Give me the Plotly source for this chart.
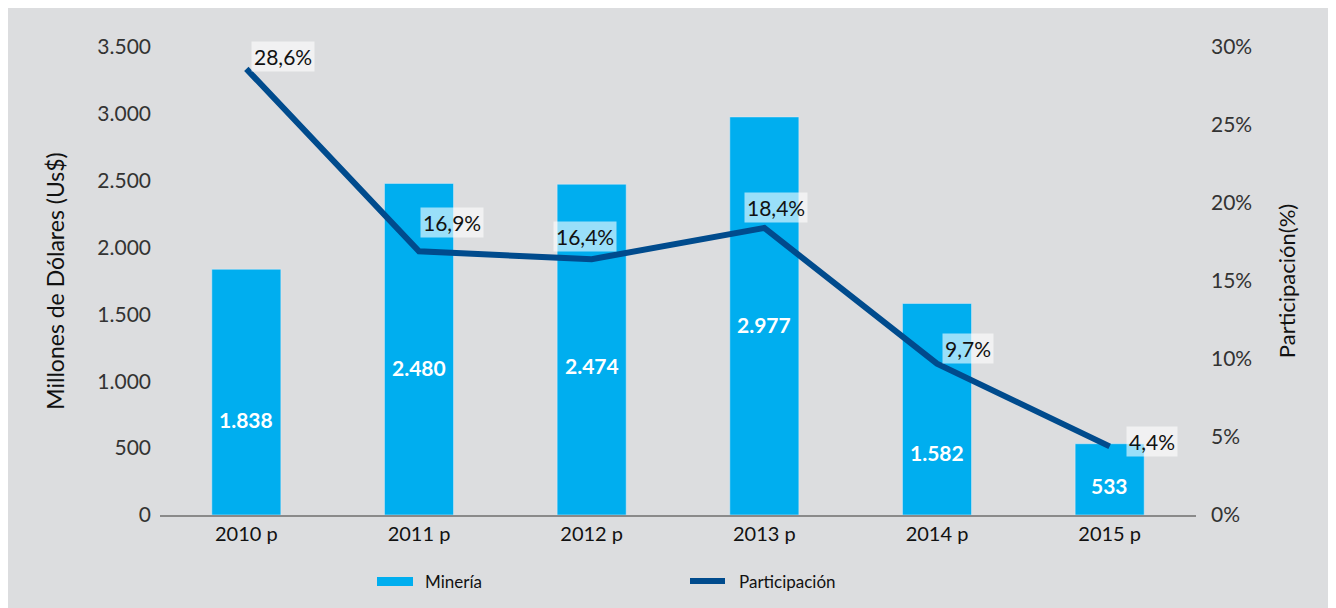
import plotly.graph_objects as go

categories = ["2010 p", "2011 p", "2012 p", "2013 p", "2014 p", "2015 p"]
mineria = [1838, 2480, 2474, 2977, 1582, 533]
participacion = [28.6, 16.9, 16.4, 18.4, 9.7, 4.4]
# vertical anchor (in data units) of the value labels inside the bars
bar_label_pos = [711, 1100, 1115, 1421, 464, 217]

BAR = "#00aeef"
LINE = "#004b8d"
BG = "#dcdddf"
FONT = "Lato"

OFF = 8  # page body margin
W, H = 1324, 600
L, R, T, B = 152, 136, 39, 93
pw, ph = W - L - R, H - T - B


def px_x(x):
    return (x - OFF - L) / pw


def px_y(y):
    return (H - B - (y - OFF)) / ph


fig = go.Figure()
fig.add_trace(go.Bar(
    x=categories, y=mineria, name="Minería", marker_color=BAR,
    width=0.4, showlegend=False))
fig.add_trace(go.Scatter(
    x=categories, y=participacion, name="Participación", yaxis="y2",
    mode="lines", line=dict(color=LINE, width=6), showlegend=False))


def fmt_thousands(v):
    return f"{v:,}".replace(",", ".")


annotations = []
for c, v, p in zip(categories, mineria, bar_label_pos):
    annotations.append(dict(
        x=c, y=p, xref="x", yref="y", text=f"<b>{fmt_thousands(v)}</b>",
        showarrow=False, font=dict(family=FONT, size=21, color="white")))

offsets = [(37, 12), (33, 29), (-7, 23), (12, 20), (31, 15), (42, 5)]
for c, v, (dx, dy) in zip(categories, participacion, offsets):
    annotations.append(dict(
        x=c, y=v, xref="x", yref="y2",
        text=f"{v:.1f}".replace(".", ",") + "%",
        showarrow=False, xshift=dx, yshift=dy,
        bgcolor="rgba(255,255,255,0.6)", borderpad=2,
        font=dict(family=FONT, size=21, color="#111111")))

# legend (manual)
annotations.append(dict(x=px_x(423), y=px_y(581), xref="paper", yref="paper",
                        text="Minería", showarrow=False, xanchor="left",
                        yanchor="middle",
                        font=dict(family=FONT, size=17, color="#111111")))
annotations.append(dict(x=px_x(737), y=px_y(581), xref="paper", yref="paper",
                        text="Participación", showarrow=False, xanchor="left",
                        yanchor="middle",
                        font=dict(family=FONT, size=17, color="#111111")))

shapes = [
    dict(type="rect", xref="paper", yref="paper",
         x0=px_x(377), x1=px_x(413), y0=px_y(586), y1=px_y(577),
         fillcolor=BAR, line=dict(width=0)),
    dict(type="line", xref="paper", yref="paper",
         x0=px_x(690), x1=px_x(725), y0=px_y(581), y1=px_y(581),
         line=dict(color=LINE, width=6)),
]

fig.update_layout(
    width=W, height=H,
    margin=dict(l=L, r=R, t=T, b=B),
    paper_bgcolor=BG, plot_bgcolor=BG,
    separators=",.",
    font=dict(family=FONT, size=21, color="#333333"),
    xaxis=dict(showgrid=False, showline=True, linecolor="#8a8a8a", linewidth=2,
               ticks="", tickfont=dict(size=20, color="#111111")),
    yaxis=dict(range=[0, 3500], dtick=500, tickformat=",d", showgrid=False,
               zeroline=False, ticks="", ticklabelstandoff=8,
               title=dict(text="Millones de Dólares (Us$)", standoff=26,
                          font=dict(size=23, color="#111111"))),
    yaxis2=dict(range=[0, 30], dtick=5, ticksuffix="%", overlaying="y",
                side="right", showgrid=False, zeroline=False, ticks="",
                ticklabelstandoff=14,
                title=dict(text="Participación(%)", standoff=28,
                           font=dict(size=22, color="#111111"))),
    annotations=annotations,
    shapes=shapes,
    hovermode="x",
)

fig.write_html("out.html")
